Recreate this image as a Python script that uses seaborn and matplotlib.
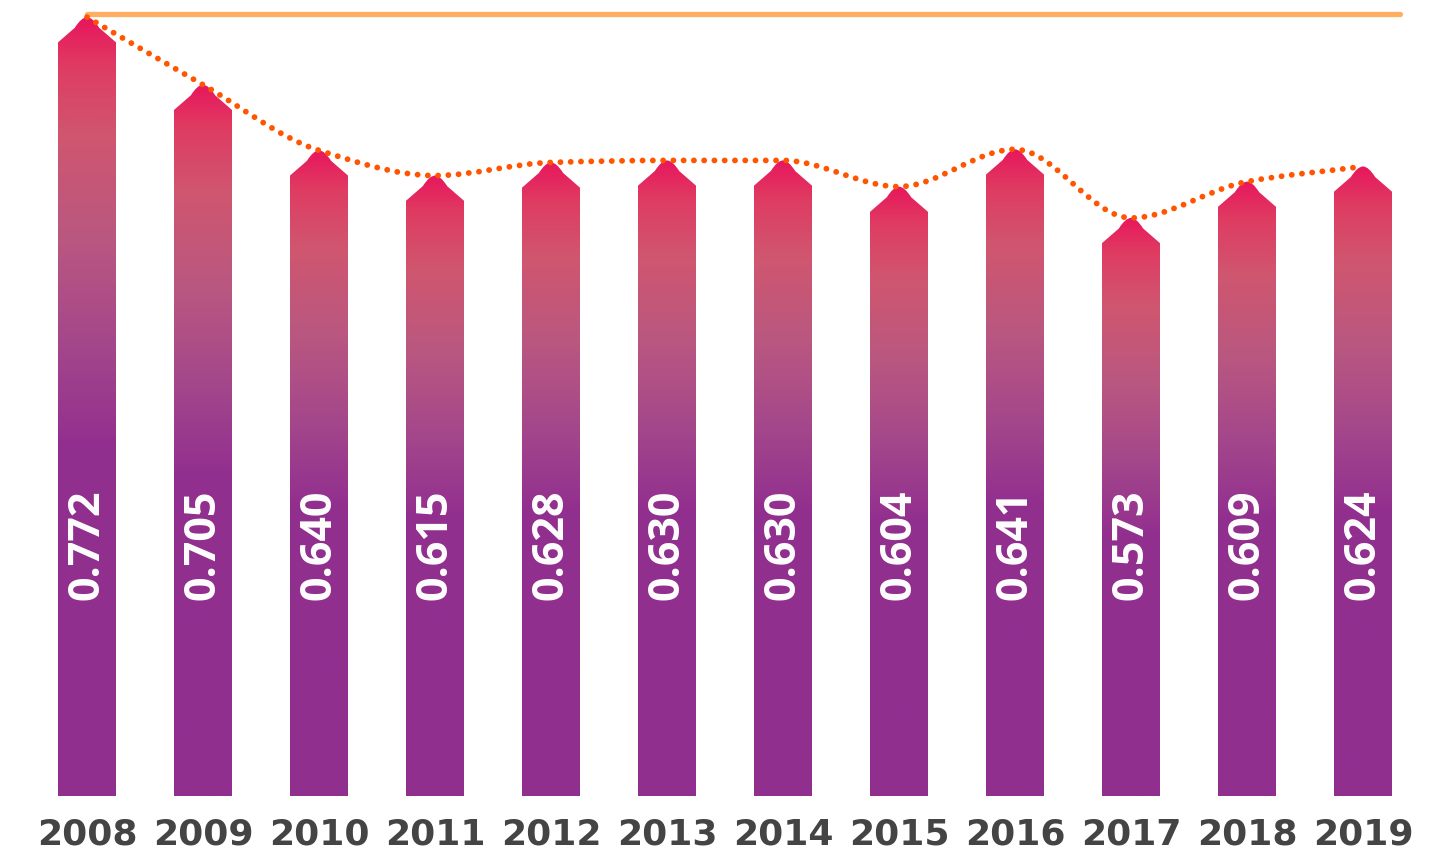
import numpy as np
import pandas as pd
import matplotlib
matplotlib.use("Agg")
import matplotlib.pyplot as plt
import seaborn as sns
from matplotlib.path import Path
from matplotlib.patches import PathPatch
from matplotlib.colors import LinearSegmentedColormap

# ---- data -------------------------------------------------------------
years = ["2008", "2009", "2010", "2011", "2012", "2013",
         "2014", "2015", "2016", "2017", "2018", "2019"]
values = [0.772, 0.705, 0.640, 0.615, 0.628, 0.630,
          0.630, 0.604, 0.641, 0.573, 0.609, 0.624]
reference_level = 0.775

df = pd.DataFrame({"year": years, "value": values})

# ---- styling ----------------------------------------------------------
sns.set_theme(style="white")
plt.rcParams["font.family"] = ["DejaVu Sans"]

grad_cmap = LinearSegmentedColormap.from_list(
    "bar_grad",
    [(0.00, "#912F8F"), (0.45, "#922F8F"), (0.58, "#A4478B"),
     (0.72, "#BA5880"), (0.85, "#D0566F"), (0.94, "#DF3C62"),
     (1.00, "#E8175D")])

fig = plt.figure(figsize=(14.3, 8.53), dpi=100)
ax = fig.add_axes([29 / 1430, 56 / 853, 1392 / 1430, 797 / 853])

sns.barplot(data=df, x="year", y="value", width=0.5, color="#912F8F",
            ax=ax, zorder=1)
ax.set_xlim(-0.5, len(years) - 0.5)
ax.set_ylim(0, 0.79)

# pentagon-topped bars with a rounded tip and vertical gradient fill
shoulder = 0.025
grad = np.linspace(0, 1, 256).reshape(-1, 1)
for patch in list(ax.patches):
    x0 = patch.get_x()
    w = patch.get_width()
    h = patch.get_height()
    xc = x0 + w / 2
    half = w / 2
    tip = 0.42 * half
    tip_y = h - shoulder * tip / half
    verts = [(x0, 0), (x0, h - shoulder), (xc - tip, tip_y),
             (xc - tip * 0.45, h), (xc, h),
             (xc + tip * 0.45, h), (xc + tip, tip_y),
             (x0 + w, h - shoulder), (x0 + w, 0), (x0, 0)]
    codes = [Path.MOVETO, Path.LINETO, Path.LINETO,
             Path.CURVE3, Path.CURVE3, Path.CURVE3, Path.CURVE3,
             Path.LINETO, Path.LINETO, Path.CLOSEPOLY]
    shape = PathPatch(Path(verts, codes), facecolor="none",
                      edgecolor="none", transform=ax.transData)
    ax.add_patch(shape)
    img = ax.imshow(grad, cmap=grad_cmap, origin="lower", aspect="auto",
                    extent=(x0, x0 + w, 0, h), zorder=2,
                    interpolation="bilinear")
    img.set_clip_path(shape)
    patch.remove()

ax.set_xlim(-0.5, len(years) - 0.5)
ax.set_ylim(0, 0.79)

# smooth dotted trend through bar tips (monotone cubic segments)
xs = np.arange(len(values), dtype=float)
ys = np.array(values)
d = np.diff(ys)
m = np.zeros_like(ys)
m[0], m[-1] = d[0], d[-1]
for i in range(1, len(ys) - 1):
    if d[i - 1] * d[i] <= 0:
        m[i] = 0.0
    else:
        m[i] = 2.0 / (1.0 / d[i - 1] + 1.0 / d[i])
verts = [(xs[0], ys[0])]
codes = [Path.MOVETO]
for i in range(len(xs) - 1):
    verts += [(xs[i] + 1 / 3, ys[i] + m[i] / 3),
              (xs[i + 1] - 1 / 3, ys[i + 1] - m[i + 1] / 3),
              (xs[i + 1], ys[i + 1])]
    codes += [Path.CURVE4] * 3
trend = PathPatch(Path(verts, codes), facecolor="none",
                  edgecolor="#FF5500", linewidth=4.2,
                  linestyle=(0, (0.01, 1.75)), capstyle="round", zorder=4)
ax.add_patch(trend)

# reference line across the top
ax.plot([0, 11.32], [reference_level, reference_level], color="#FFAE62",
        linewidth=3.8, solid_capstyle="round", zorder=3)

# value labels inside bars
for i, v in enumerate(values):
    ax.text(i, 0.25, f"{v:.3f}", rotation=90, ha="center", va="center",
            color="white", fontsize=31, fontweight="bold",
            family=["Open Sans", "DejaVu Sans"], zorder=5)

# axes cosmetics
sns.despine(ax=ax, left=True, bottom=True)
ax.set_xlabel("")
ax.set_ylabel("")
ax.set_yticks([])
ax.tick_params(axis="x", length=0, pad=15, labelsize=26,
               labelcolor="#444444")
for lbl in ax.get_xticklabels():
    lbl.set_fontweight("bold")

fig.savefig("out.png", dpi=100, facecolor="white")
